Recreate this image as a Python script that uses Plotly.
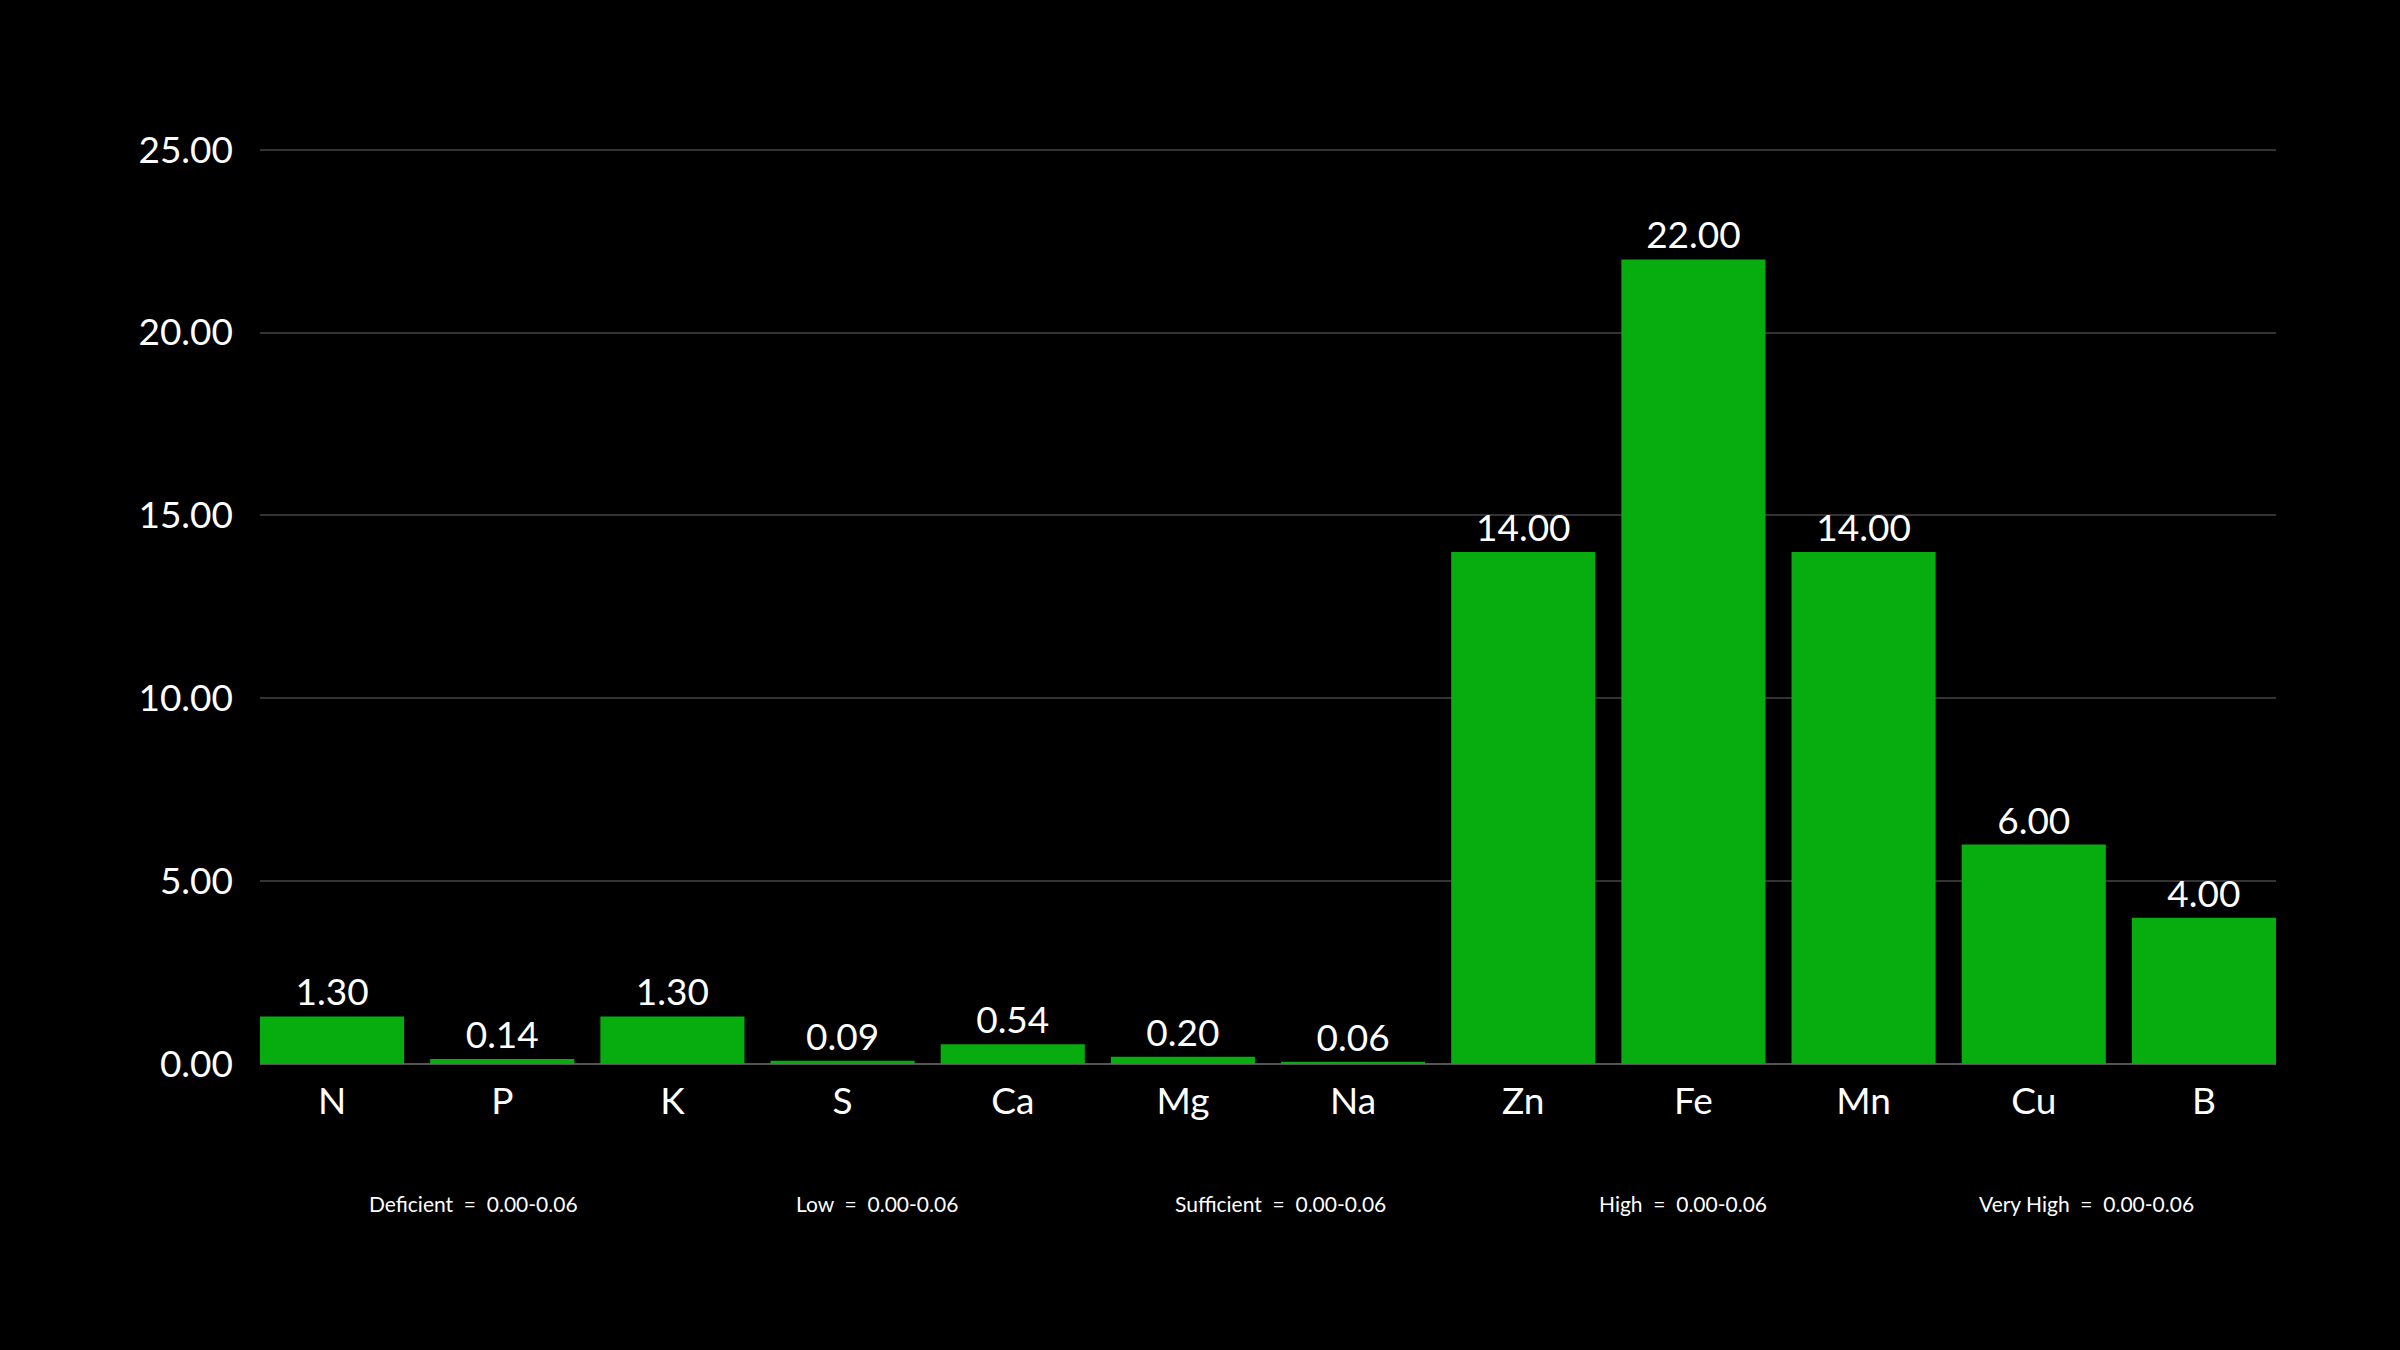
import plotly.graph_objects as go

categories = ["N", "P", "K", "S", "Ca", "Mg", "Na", "Zn", "Fe", "Mn", "Cu", "B"]
values = [1.30, 0.14, 1.30, 0.09, 0.54, 0.20, 0.06, 14.00, 22.00, 14.00, 6.00, 4.00]
y_ticks = [0, 5, 10, 15, 20, 25]
range_labels = ["Deficient", "Low", "Sufficient", "High", "Very High"]
range_values = ["0.00-0.06", "0.00-0.06", "0.00-0.06", "0.00-0.06", "0.00-0.06"]

FONT = "Lato"
BAR = "#07ad0e"
BIG = 37

fig = go.Figure(
    go.Bar(
        x=categories,
        y=values,
        marker=dict(color=BAR, line=dict(width=0)),
        text=[f"{v:.2f}" for v in values],
        textposition="outside",
        textfont=dict(family=FONT, size=BIG, color="white"),
        cliponaxis=False,
    )
)

gap = 0.153
annotations = []
for i, (lab, val) in enumerate(zip(range_labels, range_values)):
    annotations.append(
        dict(
            x=0.106 + 0.2 * i,
            y=-0.152,
            xref="paper",
            yref="paper",
            text=f"{lab}  =  {val}",
            showarrow=False,
            font=dict(family=FONT, size=21, color="white"),
            xanchor="center",
            yanchor="middle",
        )
    )

fig.update_layout(
    width=2400,
    height=1350,
    paper_bgcolor="black",
    plot_bgcolor="black",
    margin=dict(l=260, r=124, t=146, b=286),
    bargap=gap,
    showlegend=False,
    annotations=annotations,
    font=dict(family=FONT, color="white"),
)
fig.update_xaxes(
    range=[-0.5 + gap / 2, len(categories) - 0.5 - gap / 2],
    showgrid=False,
    showline=False,
    zeroline=False,
    ticks="",
    tickfont=dict(family=FONT, size=BIG, color="white"),
    ticklabelstandoff=12,
)
fig.update_yaxes(
    range=[0, 25.1],
    tickvals=y_ticks,
    ticktext=[f"{v:.2f}" for v in y_ticks],
    showgrid=True,
    gridcolor="#333333",
    gridwidth=1.5,
    zeroline=True,
    zerolinecolor="#555555",
    zerolinewidth=2,
    showline=False,
    ticks="",
    tickfont=dict(family=FONT, size=BIG, color="white"),
    ticklabelstandoff=26,
)

fig.write_html(
    "out.html",
    config={"displayModeBar": False},
    post_script="document.body.style.margin='0';document.body.style.background='black';",
)
